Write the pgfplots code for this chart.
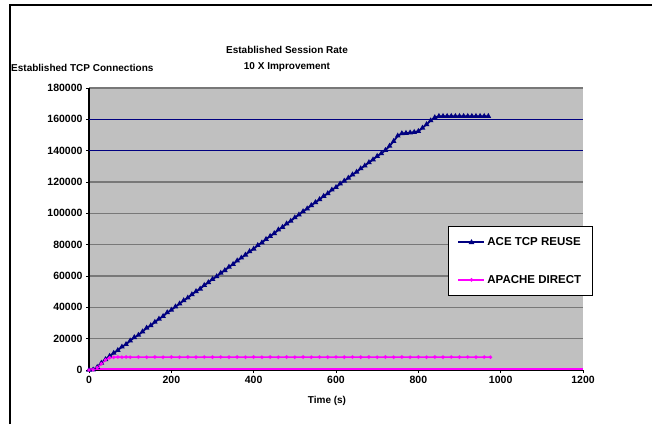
\documentclass[border=0pt]{standalone}
\usepackage{fontspec}
\setmainfont{Liberation Sans}
\usepackage{pgfplots}
\pgfplotsset{compat=1.18}
\definecolor{plotbg}{RGB}{192,192,192}
\definecolor{gridc}{RGB}{120,120,120}
\definecolor{navyc}{RGB}{0,0,128}
\definecolor{pinkc}{RGB}{255,0,255}
\newcommand{\lf}{\fontsize{10}{12}\selectfont\bfseries}
\newcommand{\tf}{\fontsize{10.5}{12}\selectfont\bfseries}
\newcommand{\legf}{\fontsize{11.5}{13}\selectfont\bfseries}
\begin{document}
\begin{tikzpicture}
\path[use as bounding box] (0,0) rectangle (652pt,-424pt);
\draw[black, line width=1.5pt] (10pt,-424pt) -- (10pt,-5pt) -- (652pt,-5pt);
\begin{axis}[
  at={(89pt,-370pt)}, anchor=south west,
  scale only axis, width=494pt, height=282pt,
  xmin=0, xmax=1200, ymin=0, ymax=180000,
  xtick={0,200,...,1200}, ytick={0,20000,40000,60000,80000,100000,120000,180000},
  scaled y ticks=false, scaled x ticks=false,
  /pgf/number format/.cd, fixed, precision=0, 1000 sep={}, assume math mode=true, /pgfplots/.cd,
  tick label style={font=\tf},
  axis background/.style={fill=plotbg},
  axis x line*=bottom, axis y line*=left,
  axis line style={black, line width=1.5pt},
  tick align=outside, major tick length=3pt, tick style={black, line width=0.8pt},
  ymajorgrids, major grid style={gridc, line width=1.2pt},
  extra y ticks={140000,160000},
  extra y tick style={grid=none},
  legend style={at={(rel axis cs:0.7267,0.5106)}, anchor=north west, draw=black, line width=1.2pt,
    fill=white, font=\legf, row sep=24pt, inner xsep=9pt, inner ysep=9pt, cells={anchor=west}},
  legend cell align=left,
  legend image code/.code={\draw[mark repeat=2, mark phase=2, #1] plot coordinates {(0pt,0pt) (13pt,0pt) (26pt,0pt)};},
  clip=false,
]
\addplot[navyc, line width=1.6pt, forget plot] coordinates {(0,140000) (1200,140000)};
\addplot[navyc, line width=1.6pt, forget plot] coordinates {(0,160000) (1200,160000)};
\addplot[pinkc, line width=1.5pt, forget plot] coordinates {(0,800) (1200,800)};
\addplot[navyc, line width=1.8pt, mark=triangle*, mark size=1.5pt, mark options={navyc}] coordinates {
(0,0) (10,200) (20,1800) (30,4500) (40,6800) (50,8900) (60,10800) (70,12600) (80,14800) (90,16400)
(100,18700) (110,20800) (120,22300) (130,24500) (140,26900) (150,28400) (160,30600) (170,32600) (180,34300) (190,36700)
(200,38300) (210,40400) (220,42300) (230,44400) (240,46100) (250,48200) (260,50200) (270,51800) (280,54100) (290,55900)
(300,58000) (310,59700) (320,61900) (330,63600) (340,65800) (350,67500) (360,69800) (370,71600) (380,73500) (390,75700)
(400,77300) (410,79600) (420,81300) (430,83500) (440,85400) (450,87200) (460,89500) (470,91200) (480,93400) (490,95100)
(500,97300) (510,99100) (520,101200) (530,103000) (540,105100) (550,107000) (560,108900) (570,111000) (580,112700) (590,115000)
(600,116600) (610,118900) (620,120700) (630,122600) (640,124700) (650,126400) (660,128600) (670,130400) (680,132500) (690,134300)
(700,136500) (710,138200) (720,140300) (730,143000) (740,146000) (750,149500) (760,151000) (770,151200) (780,151500) (790,151800)
(800,152400) (810,154500) (820,156800) (830,159200) (840,161200) (850,162000) (860,162000) (870,162000) (880,162000) (890,162000)
(900,162000) (910,162000) (920,162000) (930,162000) (940,162000) (950,162000) (960,162000) (970,162000)
};
\addlegendentry{ACE TCP REUSE}
\addplot[pinkc, line width=1.5pt, mark=*, mark size=0.9pt, mark options={pinkc}] coordinates {
(0,0) (10,200) (20,1500) (30,4000) (40,6500) (50,7800) (60,8100) (70,8300) (80,8200) (90,8300)
(100,8200) (120,8300) (140,8200) (160,8300) (180,8200) (200,8300) (220,8200) (240,8300) (260,8200) (280,8300)
(300,8200) (320,8300) (340,8200) (360,8300) (380,8200) (400,8300) (420,8200) (440,8300) (460,8200) (480,8300)
(500,8200) (520,8300) (540,8200) (560,8300) (580,8200) (600,8300) (620,8200) (640,8300) (660,8200) (680,8300)
(700,8200) (720,8300) (740,8200) (760,8300) (780,8200) (800,8300) (820,8200) (840,8300) (860,8200) (880,8300)
(900,8200) (920,8300) (940,8200) (960,8300) (975,8200)
};
\addlegendentry{APACHE DIRECT}
\end{axis}
\node[anchor=west, font=\lf, inner sep=0pt] at (11pt,-68pt) {Established TCP Connections};
\node[align=center, font=\lf, inner sep=0pt] at (287pt,-59pt) {Established Session Rate\\[4pt]10 X Improvement};
\node[font=\lf, inner sep=0pt] at (327pt,-401pt) {Time (s)};
\end{tikzpicture}
\end{document}
